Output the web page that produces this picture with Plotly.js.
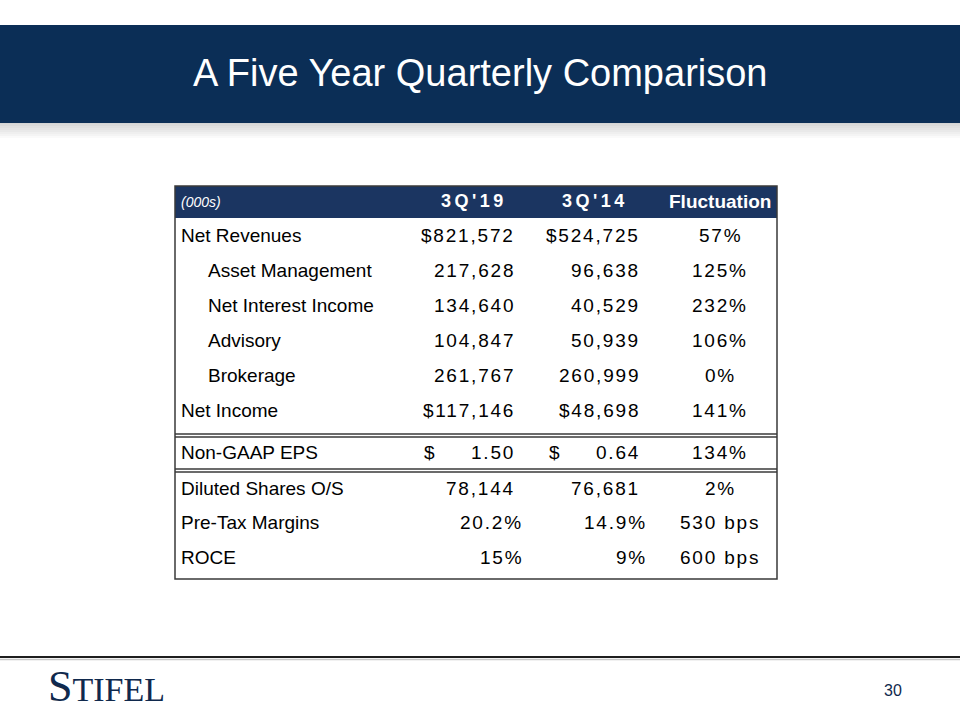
<!DOCTYPE html>
<html>
<head>
<meta charset="utf-8">
<script src="https://cdn.plot.ly/plotly-3.0.1.min.js"></script>
<style>
  html, body { margin: 0; padding: 0; background: #ffffff; }
  #chart { width: 960px; height: 720px; }
  /* numeric cells: spaced digits like the original slide */
  text[style*="Arial"] { letter-spacing: 1.8px; }
  /* column headers */
  text[style*="Helvetica"] { letter-spacing: 3.5px; }
</style>
</head>
<body>
<div id="chart"></div>
<script>
// ---------------- DATA ----------------
const slideTitle = "A Five Year Quarterly Comparison";
const unitsLabel = "(000s)";
const colHeaders = ["3Q'19", "3Q'14", "Fluctuation"];
const rowLabels = ["Net Revenues", "Asset Management", "Net Interest Income", "Advisory",
                   "Brokerage", "Net Income", "Non-GAAP EPS", "Diluted Shares O/S",
                   "Pre-Tax Margins", "ROCE"];
const rowLevel  = [0, 1, 1, 1, 1, 0, 0, 0, 0, 0];
const q319 = [821572, 217628, 134640, 104847, 261767, 117146, 1.50, 78144, 20.2, 15];
const q314 = [524725, 96638, 40529, 50939, 260999, 48698, 0.64, 76681, 14.9, 9];
const rowFormat = ["dollar", "num", "num", "num", "num", "dollar", "eps", "num", "pct1", "pct0"];
const fluctuation = ["57%", "125%", "232%", "106%", "0%", "141%", "134%", "2%", "530 bps", "600 bps"];
const pageNumber = "30";
const brand = "STIFEL";

// ---------------- LAYOUT CONSTANTS ----------------
const NAVY = "#0b2e56";
const HEAD = "#1b3561";
const TXT = "#000000";
const T = {left: 175, right: 777, top: 186, headBottom: 218, bottom: 579};
const rowY = [235, 270, 305, 340, 375, 410, 452, 488, 522, 557];
const colRight = [516, 641];     // right edge of numeric columns
const pctRight = [524, 648];     // right edge of percentage cells
const dollarX = [430, 555];      // separate $ sign for EPS row
const flucX = 720;

function fmtNum(v, f) {
  if (f === "dollar") return "$" + v.toLocaleString("en-US");
  if (f === "num") return v.toLocaleString("en-US");
  if (f === "eps") return v.toFixed(2);
  if (f === "pct1") return v.toFixed(1) + "%";
  if (f === "pct0") return v.toFixed(0) + "%";
  return String(v);
}

const ann = [];
const shapes = [];

function txt(x, y, text, opts) {
  ann.push(Object.assign({
    x: x, y: y, xref: "x", yref: "y", text: text, showarrow: false,
    xanchor: "left", yanchor: "middle", borderpad: 0,
    font: {family: "Liberation Sans", size: 19, color: TXT}
  }, opts || {}));
}

// banner
for (let i = 0; i < 8; i++) {
  shapes.push({type: "rect", xref: "x", yref: "y", x0: 0, x1: 960, y0: 122 + i * 2, y1: 124 + i * 2,
    fillcolor: "rgba(120,120,120," + (0.32 - i * 0.04).toFixed(2) + ")", line: {width: 0}, layer: "below"});
}
shapes.push({type: "rect", xref: "x", yref: "y", x0: 0, x1: 960, y0: 25, y1: 123,
  fillcolor: NAVY, line: {width: 0}, layer: "below"});
txt(480, 73, slideTitle, {xanchor: "center",
  font: {family: "Liberation Sans", size: 38, color: "#ffffff"}});

// table header band
shapes.push({type: "rect", xref: "x", yref: "y", x0: T.left, x1: T.right, y0: T.top, y1: T.headBottom,
  fillcolor: HEAD, line: {width: 0}, layer: "below"});
// outer border
shapes.push({type: "rect", xref: "x", yref: "y", x0: T.left, x1: T.right, y0: T.top, y1: T.bottom,
  line: {color: "#3a3a3a", width: 1.5}, fillcolor: "rgba(0,0,0,0)"});
// double rules
[[434, 437], [469, 472]].forEach(pair => pair.forEach(yy => {
  shapes.push({type: "line", xref: "x", yref: "y", x0: T.left, x1: T.right, y0: yy, y1: yy,
    line: {color: "#3a3a3a", width: 1.3}});
}));

// header texts
txt(180, 202, unitsLabel, {font: {family: "Liberation Sans", size: 14, color: "#ffffff", style: "italic"}});
txt(474, 201, colHeaders[0], {xanchor: "center",
  font: {family: "Helvetica", size: 18, color: "#ffffff", weight: "bold"}});
txt(595, 201, colHeaders[1], {xanchor: "center",
  font: {family: "Helvetica", size: 18, color: "#ffffff", weight: "bold"}});
txt(720, 201, colHeaders[2], {xanchor: "center",
  font: {family: "Liberation Sans", size: 19, color: "#ffffff", weight: "bold"}});

// rows
const numFont = {family: "Arial", size: 19, color: TXT};
rowLabels.forEach((lab, i) => {
  const y = rowY[i];
  txt(rowLevel[i] ? 207 : 180, y, lab);
  [q319, q314].forEach((col, c) => {
    const f = rowFormat[i];
    const isPct = f === "pct1" || f === "pct0";
    txt(isPct ? pctRight[c] : colRight[c], y, fmtNum(col[i], f), {xanchor: "right", font: numFont});
    if (f === "eps") txt(dollarX[c], y, "$", {xanchor: "center", font: numFont});
  });
  txt(flucX, y, fluctuation[i], {xanchor: "center", font: numFont});
});

// footer
shapes.push({type: "line", xref: "x", yref: "y", x0: 0, x1: 960, y0: 657, y1: 657,
  line: {color: "#1e1e1e", width: 2}});
shapes.push({type: "line", xref: "x", yref: "y", x0: 0, x1: 960, y0: 659.5, y1: 659.5,
  line: {color: "#c8c8c8", width: 1.5}});
txt(47, 686, "<span style='font-size:44px'>" + brand.charAt(0) + "</span>" + brand.slice(1),
  {font: {family: "Liberation Serif", size: 34, color: "#10294d"}});
txt(893, 690, pageNumber, {xanchor: "center", font: {family: "Liberation Sans", size: 16, color: "#10294d"}});

const layout = {
  width: 960, height: 720,
  margin: {l: 0, r: 0, t: 0, b: 0},
  paper_bgcolor: "#ffffff", plot_bgcolor: "#ffffff",
  xaxis: {range: [0, 960], visible: false, fixedrange: true},
  yaxis: {range: [720, 0], visible: false, fixedrange: true},
  showlegend: false,
  shapes: shapes,
  annotations: ann
};

Plotly.newPlot("chart", [{x: [], y: [], type: "scatter", mode: "markers", hoverinfo: "skip"}], layout,
  {staticPlot: true, displayModeBar: false});
</script>
</body>
</html>
